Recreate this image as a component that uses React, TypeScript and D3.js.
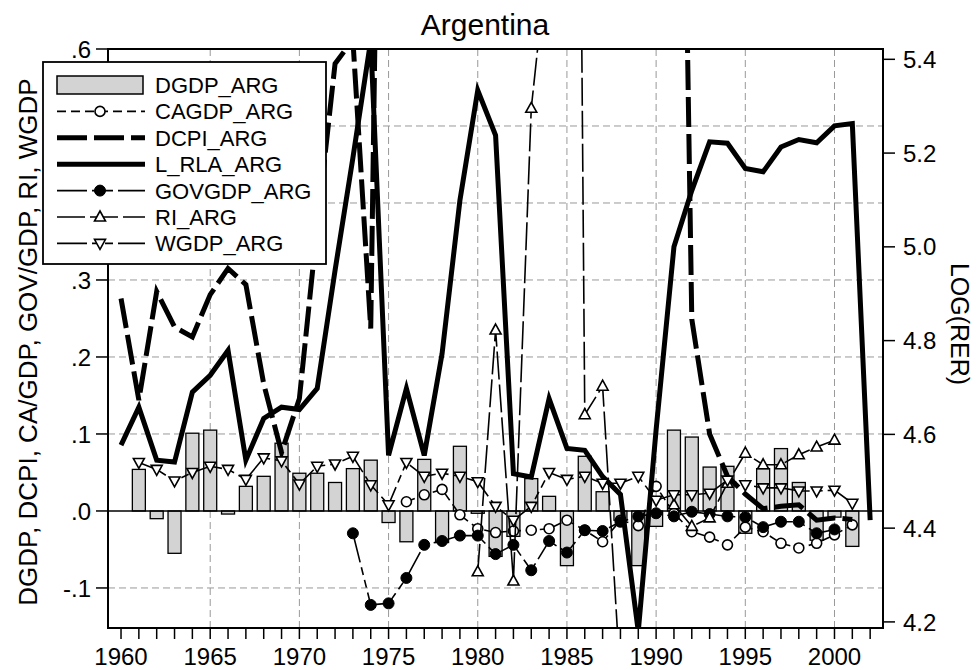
import React from 'react';
import * as d3 from 'd3';

// years 1960..2002, null = no observation
const years = d3.range(1960, 2003);

const dgdp = [
  null,
  0.054, -0.010, -0.055, 0.101, 0.105, -0.004, 0.032, 0.045, 0.088, 0.049,
  0.049, 0.037, 0.055, 0.066, -0.015, -0.040, 0.067, -0.041, 0.084, -0.003,
  -0.059, -0.033, 0.042, 0.019, -0.071, 0.071, 0.025, -0.012, -0.071, -0.020,
  0.105, 0.096, 0.057, 0.058, -0.029, 0.055, 0.081, 0.037, -0.038, -0.008,
  -0.046, null,
];

const cagdp = [
  null, null, null, null, null, null, null, null, null, null,
  null, null, null, null, null, null, 0.012, 0.021, 0.028, -0.005,
  -0.023, -0.028, -0.026, -0.025, -0.023, -0.012, -0.025, -0.040, -0.012, -0.019,
  0.032, -0.003, -0.027, -0.034, -0.044, -0.021, -0.027, -0.042, -0.048, -0.042,
  -0.031, -0.018, null,
];

const dcpi = [
  0.276, 0.144, 0.285, 0.239, 0.226, 0.281, 0.315, 0.294, 0.165, 0.076,
  0.146, 0.37, 0.581, 0.612, 0.237, 1.828, 4.44, 1.76, 1.755, 1.595,
  1.008, 1.045, 1.648, 3.438, 6.267, 6.72, 0.901, 1.313, 3.43, 30.79,
  23.14, 1.717, 0.249, 0.10, 0.045, 0.022, 0.003, 0.006, 0.008, -0.012,
  -0.009, -0.011, null,
];

const lrla = [
  4.577, 4.658, 4.545, 4.541, 4.690, 4.726, 4.779, 4.545, 4.634, 4.658,
  4.653, 4.698, 4.95, 5.19, 5.44, 4.555, 4.698, 4.555, 4.772, 5.099,
  5.334, 5.238, 4.516, 4.509, 4.676, 4.570, 4.566, 4.510, 4.472, 4.18,
  4.61, 5.00, 5.12, 5.224, 5.221, 5.167, 5.160, 5.213, 5.229, 5.222,
  5.258, 5.263, 4.417,
];

const govgdp = [
  null, null, null, null, null, null, null, null, null, null,
  null, null, null, -0.029, -0.122, -0.120, -0.087, -0.044, -0.039, -0.032,
  -0.032, -0.056, -0.044, -0.077, -0.039, -0.054, -0.025, -0.026, -0.014, -0.007,
  -0.003, -0.007, -0.001, -0.004, -0.007, -0.008, -0.021, -0.014, -0.014, -0.029,
  -0.024, null, null,
];

const ri = [
  null, null, null, null, null, null, null, null, null, null,
  null, null, null, null, null, null, null, null, null, null,
  -0.079, 0.235, -0.091, 0.523, 0.74, 3.0, 0.125, 0.162, -0.22, null,
  null, 0.008, -0.02, -0.009, 0.036, 0.075, 0.060, 0.060, 0.073, 0.083,
  0.092, null, null,
];

const wgdp = [
  null,
  0.063, 0.054, 0.039, 0.050, 0.058, 0.054, 0.041, 0.069, 0.065, 0.035,
  0.058, 0.061, 0.071, 0.034, 0.008, 0.063, 0.045, 0.049, 0.045, 0.038,
  0.006, -0.012, 0.006, 0.050, 0.041, 0.045, 0.036, 0.036, 0.045, 0.014,
  0.021, 0.021, 0.023, 0.040, 0.034, 0.030, 0.030, 0.026, 0.026, 0.027,
  0.010, null,
];

const leftTicks = [-0.1, 0, 0.1, 0.2, 0.3, 0.4, 0.5, 0.6];
const leftLabels = ['-.1', '.0', '.1', '.2', '.3', '.4', '.5', '.6'];
const rightTicks = [4.2, 4.4, 4.6, 4.8, 5.0, 5.2, 5.4];
const yearLabels = [1960, 1965, 1970, 1975, 1980, 1985, 1990, 1995, 2000];

const font = 'Liberation Sans, Arial, Helvetica, sans-serif';

const plot = { left: 108, right: 883, top: 49, bottom: 628 };
const x = d3.scaleLinear().domain([1959.27, 2002.72]).range([plot.left, plot.right]);
const yL = d3.scaleLinear().domain([-0.152, 0.6]).range([plot.bottom, plot.top]);
const yR = d3.scaleLinear().domain([4.187, 5.422]).range([plot.bottom, plot.top]);

type Pt = { year: number; v: number | null };
const pts = (arr: (number | null)[]): Pt[] => years.map((year, i) => ({ year, v: arr[i] }));

const lineFor = (scale: d3.ScaleLinear<number, number>) =>
  d3.line<Pt>()
    .defined(d => d.v != null)
    .x(d => x(d.year))
    .y(d => scale(d.v as number));

const lines = [
  { name: 'CAGDP_ARG', data: cagdp, scale: yL, width: 1.6, dash: '9,5', marker: 'open' },
  { name: 'DCPI_ARG', data: dcpi, scale: yL, width: 5, dash: '30,7', marker: null },
  { name: 'L_RLA_ARG', data: lrla, scale: yR, width: 5, dash: null, marker: null },
  { name: 'GOVGDP_ARG', data: govgdp, scale: yL, width: 1.6, dash: '30,5,8,5,8,5', marker: 'filled' },
  { name: 'RI_ARG', data: ri, scale: yL, width: 1.6, dash: '28,5', marker: 'up' },
  { name: 'WGDP_ARG', data: wgdp, scale: yL, width: 1.6, dash: '30,5,8,5,8,5', marker: 'down' },
];

const Marker = ({ kind, cx, cy }: { kind: string | null; cx: number; cy: number }) => {
  if (kind === 'open')
    return <circle cx={cx} cy={cy} r={5} fill="white" stroke="black" strokeWidth={1.6} />;
  if (kind === 'filled')
    return <circle cx={cx} cy={cy} r={5.5} fill="black" stroke="black" strokeWidth={1} />;
  if (kind === 'up')
    return <path d={`M${cx},${cy - 6}L${cx + 5.5},${cy + 4}L${cx - 5.5},${cy + 4}Z`}
      fill="white" stroke="black" strokeWidth={1.6} />;
  if (kind === 'down')
    return <path d={`M${cx},${cy + 6}L${cx + 5.5},${cy - 4}L${cx - 5.5},${cy - 4}Z`}
      fill="white" stroke="black" strokeWidth={1.6} />;
  return null;
};

export default function App() {
  const barW = 13;
  const legendRows = ['DGDP_ARG', 'CAGDP_ARG', 'DCPI_ARG', 'L_RLA_ARG', 'GOVGDP_ARG', 'RI_ARG', 'WGDP_ARG'];

  return (
    <svg width={980} height={670} style={{ position: 'absolute', left: 0, top: 0, background: 'white' }}
      fontFamily={font}>
      <defs>
        <clipPath id="plotClip">
          <rect x={plot.left} y={plot.top} width={plot.right - plot.left} height={plot.bottom - plot.top} />
        </clipPath>
      </defs>
      <rect width={980} height={670} fill="white" />

      {/* grid */}
      {leftTicks.filter(t => t !== 0).map(t => (
        <line key={'hg' + t} x1={plot.left} x2={plot.right} y1={yL(t)} y2={yL(t)}
          stroke="#999" strokeWidth={1} strokeDasharray="7,4" />
      ))}
      {yearLabels.filter(yy => yy !== 1960).map(yy => (
        <line key={'vg' + yy} x1={x(yy)} x2={x(yy)} y1={plot.top} y2={plot.bottom}
          stroke="#999" strokeWidth={1} strokeDasharray="7,4" />
      ))}

      <g clipPath="url(#plotClip)">
        {/* bars */}
        {pts(dgdp).filter(d => d.v != null).map(d => (
          <rect key={'b' + d.year} x={x(d.year) - barW / 2} width={barW}
            y={Math.min(yL(d.v as number), yL(0))} height={Math.abs(yL(d.v as number) - yL(0))}
            fill="#d3d3d3" stroke="black" strokeWidth={1.3} />
        ))}
        <line x1={plot.left} x2={plot.right} y1={yL(0)} y2={yL(0)} stroke="black" strokeWidth={1.6} />

        {lines.map(s => (
          <g key={s.name}>
            <path d={lineFor(s.scale)(pts(s.data)) || ''} fill="none" stroke="black"
              strokeWidth={s.width} strokeDasharray={s.dash || undefined} strokeLinejoin="miter" />
            {s.marker && pts(s.data).filter(d => d.v != null).map(d => (
              <Marker key={d.year} kind={s.marker} cx={x(d.year)} cy={s.scale(d.v as number)} />
            ))}
          </g>
        ))}
      </g>

      {/* frame */}
      <rect x={plot.left} y={plot.top} width={plot.right - plot.left} height={plot.bottom - plot.top}
        fill="none" stroke="black" strokeWidth={2} />

      {/* left axis */}
      {leftTicks.map((t, i) => (
        <g key={'lt' + t}>
          <line x1={plot.left - 12} x2={plot.left} y1={yL(t)} y2={yL(t)} stroke="black" strokeWidth={1.5} />
          <text x={plot.left - 17} y={yL(t)} dy="0.36em" textAnchor="end" fontSize={24}>{leftLabels[i]}</text>
        </g>
      ))}
      {/* right axis */}
      {rightTicks.map(t => (
        <g key={'rt' + t}>
          <line x1={plot.right} x2={plot.right + 12} y1={yR(t)} y2={yR(t)} stroke="black" strokeWidth={1.5} />
          <text x={plot.right + 20} y={yR(t)} dy="0.36em" textAnchor="start" fontSize={24}>{t.toFixed(1)}</text>
        </g>
      ))}
      {/* bottom axis */}
      {years.map(yy => (
        <line key={'bt' + yy} x1={x(yy)} x2={x(yy)} y1={plot.bottom} y2={plot.bottom + 11}
          stroke="black" strokeWidth={1.5} />
      ))}
      {yearLabels.map(yy => (
        <text key={'bl' + yy} x={x(yy)} y={665} textAnchor="middle" fontSize={24}>{yy}</text>
      ))}

      {/* titles */}
      <text x={485} y={35} textAnchor="middle" fontSize={30}>Argentina</text>
      <text transform="translate(37,342) rotate(-90)" textAnchor="middle" fontSize={26}>
        DGDP, DCPI, CA/GDP, GOV/GDP, RI, WGDP
      </text>
      <text transform="translate(951,324) rotate(90)" textAnchor="middle" fontSize={25}>LOG(RER)</text>

      {/* legend */}
      <g>
        <rect x={43} y={62} width={283} height={202} fill="white" stroke="black" strokeWidth={1.8} />
        {legendRows.map((name, i) => {
          const cy = 85 + i * 26.4;
          const s = lines.find(l => l.name === name);
          return (
            <g key={'lg' + name}>
              {name === 'DGDP_ARG' ? (
                <rect x={57} y={cy - 9} width={86} height={18} fill="#d3d3d3" stroke="black" strokeWidth={1.5} />
              ) : s ? (
                <>
                  <line x1={57} x2={145} y1={cy} y2={cy} stroke="black" strokeWidth={s.width}
                    strokeDasharray={s.dash || undefined} />
                  {s.marker && <Marker kind={s.marker} cx={100} cy={cy} />}
                </>
              ) : null}
              <text x={155} y={cy} dy="0.36em" fontSize={22}>{name}</text>
            </g>
          );
        })}
      </g>
    </svg>
  );
}
